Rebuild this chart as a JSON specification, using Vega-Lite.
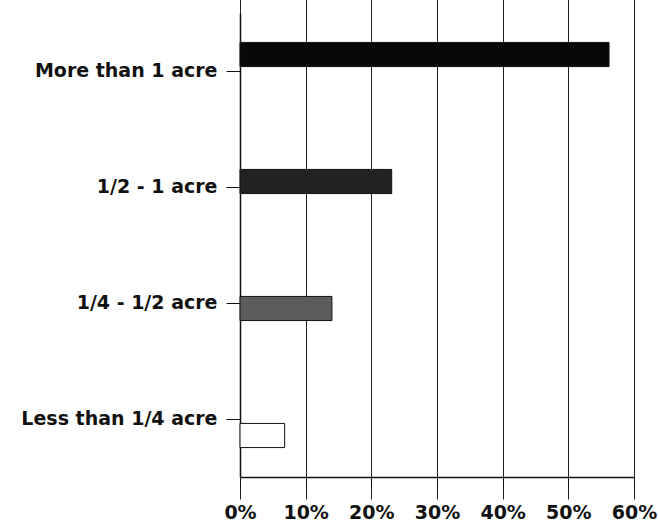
{
  "$schema": "https://vega.github.io/schema/vega-lite/v6.json",
  "autosize": "none",
  "width": 394,
  "height": 464,
  "padding": {"left": 240, "top": 13, "right": 24, "bottom": 46},
  "background": "white",
  "config": {"view": {"stroke": null}},
  "data": {
    "values": [
      {"cat": "More than 1 acre", "pct": 0.562, "shade": "a"},
      {"cat": "1/2 - 1 acre", "pct": 0.231, "shade": "b"},
      {"cat": "1/4 - 1/2 acre", "pct": 0.140, "shade": "c"},
      {"cat": "Less than 1/4 acre", "pct": 0.068, "shade": "d"}
    ]
  },
  "layer": [
    {
      "mark": {"type": "bar", "stroke": "#111111", "strokeWidth": 1},
      "encoding": {
        "y": {
          "field": "cat", "type": "nominal",
          "sort": ["More than 1 acre", "1/2 - 1 acre", "1/4 - 1/2 acre", "Less than 1/4 acre"],
          "scale": {"range": [-22, 486], "paddingInner": 0.81, "paddingOuter": 0.405},
          "axis": null
        },
        "x": {
          "field": "pct", "type": "quantitative",
          "scale": {"domain": [0, 0.6], "nice": false},
          "axis": {
            "values": [0, 0.1, 0.2, 0.3, 0.4, 0.5, 0.6],
            "format": ".0%",
            "title": null,
            "grid": true,
            "gridColor": "#222222",
            "gridWidth": 1,
            "gridOpacity": 1,
            "domainColor": "#111111",
            "domainWidth": 1.5,
            "tickColor": "#111111",
            "tickSize": 12,
            "labelPadding": 14,
            "labelFlush": false,
            "labelOverlap": false,
            "labelFont": "DejaVu Sans",
            "labelFontWeight": "bold",
            "labelFontSize": 19,
            "labelColor": "#111111"
          }
        },
        "color": {
          "field": "shade", "type": "nominal",
          "scale": {"domain": ["a", "b", "c", "d"], "range": ["#080808", "#222222", "#5c5c5c", "#ffffff"]},
          "legend": null
        }
      }
    },
    {
      "mark": {"type": "tick", "opacity": 0},
      "encoding": {
        "y": {
          "field": "cat", "type": "nominal",
          "sort": ["More than 1 acre", "1/2 - 1 acre", "1/4 - 1/2 acre", "Less than 1/4 acre"],
          "axis": {
            "title": null,
            "domainColor": "#111111",
            "domainWidth": 1.5,
            "tickColor": "#111111",
            "tickSize": 14,
            "labelPadding": 9,
            "labelFont": "DejaVu Sans",
            "labelFontWeight": "bold",
            "labelFontSize": 19,
            "labelColor": "#111111",
            "labelLimit": 300
          }
        },
        "x": {"field": "pct", "type": "quantitative"}
      }
    }
  ],
  "resolve": {"scale": {"y": "independent"}, "axis": {"y": "independent"}}
}
